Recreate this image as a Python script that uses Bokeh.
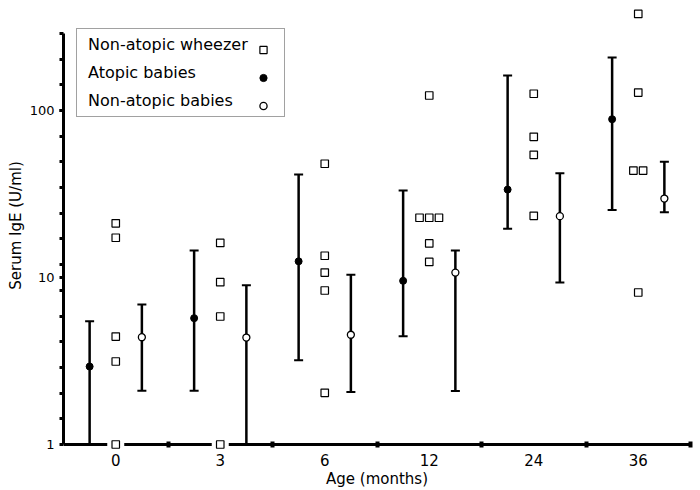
import numpy as np
import pandas as pd
from bokeh.plotting import figure
from bokeh.models import (ColumnDataSource, Whisker, TeeHead, Range1d, FixedTicker,
                          Span, Legend, LegendItem)
from bokeh.core.properties import value
from bokeh.embed import file_html
from bokeh.resources import INLINE

# ---------------- data ----------------
ages = ["0", "3", "6", "12", "24", "36"]

atopic_mean = [2.93, 5.71, 12.5, 9.55, 33.6, 88.7]
atopic_upper = [5.47, 14.5, 41.4, 33.2, 162.0, 208.0]
atopic_lower = [1.0, 2.10, 3.20, 4.45, 19.6, 25.4]

nonatopic_mean = [4.39, 4.37, 4.54, 10.7, 23.3, 29.7]
nonatopic_upper = [6.89, 8.99, 10.4, 14.5, 42.1, 49.3]
nonatopic_lower = [2.10, 1.0, 2.06, 2.09, 9.33, 24.6]

wheezer_age = ["0", "0", "0", "0", "0",
               "3", "3", "3", "3",
               "6", "6", "6", "6", "6",
               "12", "12", "12", "12", "12", "12",
               "24", "24", "24", "24",
               "36", "36", "36", "36", "36"]
wheezer_value = [21.1, 17.3, 4.43, 3.14, 1.0,
                 16.1, 9.37, 5.84, 1.0,
                 48.0, 13.5, 10.7, 8.36, 2.04,
                 123.0, 22.8, 22.8, 22.8, 16.0, 12.4,
                 126.0, 69.6, 54.3, 23.4,
                 379.0, 128.0, 43.7, 43.7, 8.13]

y_tick_values = [1, 10, 100]
y_tick_labels = ["1", "10", "100"]
legend_labels = ["Non-atopic wheezer", "Atopic babies", "Non-atopic babies"]

# ---------------- tables ----------------
pos = np.arange(len(ages))
groups = pd.DataFrame(dict(age=ages, pos=pos,
                           a_mean=atopic_mean, a_upper=atopic_upper, a_lower=atopic_lower,
                           n_mean=nonatopic_mean, n_upper=nonatopic_upper, n_lower=nonatopic_lower))
groups["xa"] = groups["pos"] - 0.25
groups["xn"] = groups["pos"] + 0.25
gsrc = ColumnDataSource(groups)

w = pd.DataFrame(dict(age=wheezer_age, value=wheezer_value))
w["pos"] = w["age"].map({a: i for i, a in enumerate(ages)})
grp = w.groupby(["age", "value"])
w["rank"] = grp.cumcount()
w["n"] = grp["value"].transform("size")
w["x"] = w["pos"] + (w["rank"] - (w["n"] - 1) / 2.0) * 0.093
wsrc = ColumnDataSource(w)

FONT = "DejaVu Sans"

p = figure(width=700, height=490,
           x_range=Range1d(-0.5, 5.5), y_range=Range1d(0.9205, 455.8),
           y_axis_type="log", output_backend="svg", toolbar_location=None,
           min_border_left=63, min_border_right=10, min_border_top=0, min_border_bottom=40)
p.outline_line_color = None
p.grid.visible = False

# x axis line drawn underneath the marks, at the value 1
p.add_layout(Span(location=1, dimension="width", line_color="black", line_width=3, level="underlay"))

# ---------------- x axis ----------------
xa = p.xaxis[0]
xa.ticker = FixedTicker(ticks=[float(v) for v in pos], minor_ticks=[float(v) + 0.5 for v in pos])
xa.major_label_overrides = {int(i): a for i, a in zip(pos, ages)}
xa.axis_line_color = None
xa.major_tick_line_color = None
xa.major_tick_in = 0
xa.major_tick_out = 0
xa.minor_tick_line_color = "black"
xa.minor_tick_line_width = 4
xa.minor_tick_in = 9
xa.minor_tick_out = -3
xa.major_label_standoff = 3
xa.major_label_text_font = FONT
xa.major_label_text_font_size = "15px"
xa.major_label_text_color = "black"
xa.axis_label = "Age (months)"
xa.axis_label_standoff = 1
xa.axis_label_text_font = FONT
xa.axis_label_text_font_size = "15px"
xa.axis_label_text_font_style = "normal"
xa.axis_label_text_color = "black"

# ---------------- y axis ----------------
ya = p.yaxis[0]
minor = [10 ** (k / 6.5) for k in range(1, 17)]
ya.ticker = FixedTicker(ticks=y_tick_values, minor_ticks=minor)
ya.major_label_overrides = dict(zip(y_tick_values, y_tick_labels))
ya.bounds = (1, minor[-1])
ya.axis_line_width = 3
ya.axis_line_color = "black"
ya.major_tick_in = 0
ya.major_tick_out = 4
ya.major_tick_line_width = 3
ya.minor_tick_in = 0
ya.minor_tick_out = 4
ya.minor_tick_line_width = 3
ya.major_label_standoff = 5
ya.major_label_text_font = FONT
ya.major_label_text_font_size = "13px"
ya.major_label_text_color = "black"
ya.axis_label = "Serum IgE (U/ml)"
ya.axis_label_standoff = 2
ya.axis_label_text_font = FONT
ya.axis_label_text_font_size = "15px"
ya.axis_label_text_font_style = "normal"
ya.axis_label_text_color = "black"

# ---------------- marks ----------------
p.scatter("x", "value", source=wsrc, marker="square", size=17,
          fill_color="white", line_color=None)
sq = p.scatter("x", "value", source=wsrc, marker="square", size=7.5,
               fill_color="white", line_color="black", line_width=1.2)

for base, up, lo in (("xa", "a_upper", "a_lower"), ("xn", "n_upper", "n_lower")):
    wk = Whisker(source=gsrc, base=base, upper=up, lower=lo, dimension="height",
                 line_color="black", line_width=2.5,
                 upper_head=TeeHead(size=9, line_width=2, line_color="black"),
                 lower_head=TeeHead(size=9, line_width=2, line_color="black"))
    p.add_layout(wk)

atop = p.scatter("xa", "a_mean", source=gsrc, marker="circle", size=7,
                 fill_color="black", line_color="black")
nonat = p.scatter("xn", "n_mean", source=gsrc, marker="circle", size=7,
                  fill_color="white", line_color="black", line_width=1.3)

rends = [sq, atop, nonat]

# legend: text box, then the markers to the right of the text
legA = Legend(items=[LegendItem(label=value(t), renderers=[r]) for t, r in zip(legend_labels, rends)],
              location=(13, 333), orientation="vertical", margin=0,
              glyph_width=0, glyph_height=23, label_height=23, label_width=192,
              label_standoff=7, padding=4, spacing=5,
              label_text_font=FONT, label_text_font_size="16px", label_text_color="black",
              border_line_color="#444444", border_line_width=1,
              background_fill_color="white", background_fill_alpha=1.0)
p.add_layout(legA)
legB = Legend(items=[LegendItem(label=value(" "), renderers=[r]) for r in rends],
              location=(191, 333), orientation="vertical", margin=0,
              glyph_width=18, glyph_height=23, label_height=23, label_width=0,
              label_standoff=0, padding=4, spacing=5,
              label_text_font=FONT, label_text_font_size="16px",
              border_line_color=None, background_fill_alpha=0.0)
p.add_layout(legB)

open("out.html", "w").write(file_html(p, INLINE))
